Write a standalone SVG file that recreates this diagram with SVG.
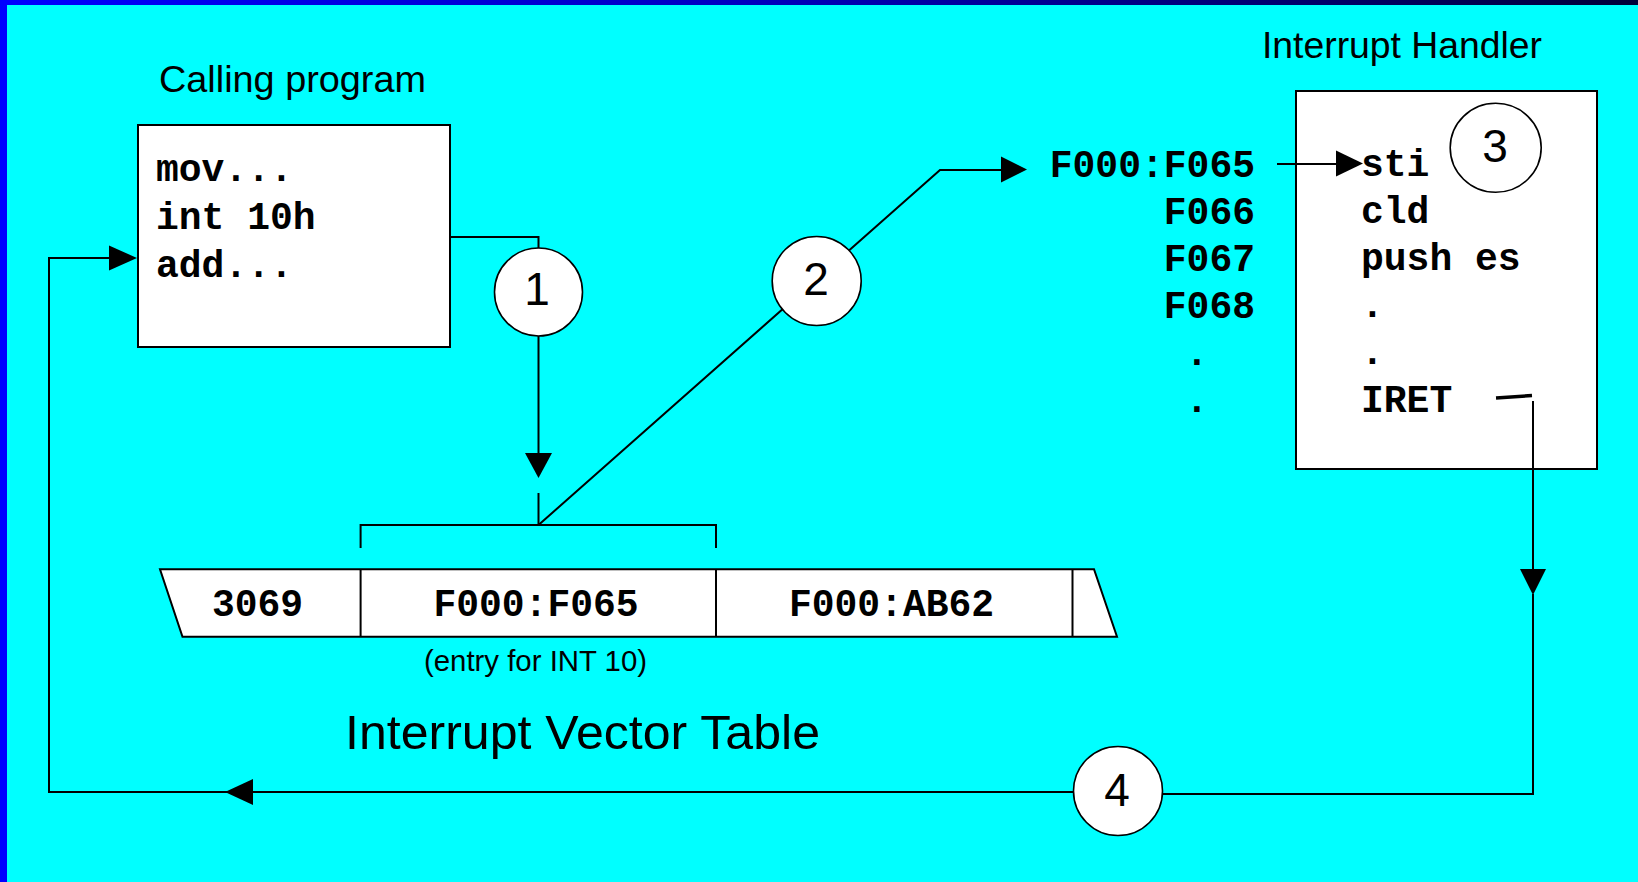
<svg xmlns="http://www.w3.org/2000/svg" width="1638" height="882" viewBox="0 0 1638 882">
  <defs>
    <linearGradient id="topBar" x1="0" y1="0" x2="1" y2="0">
      <stop offset="0" stop-color="#0000FF"/>
      <stop offset="0.45" stop-color="#0000C0"/>
      <stop offset="1" stop-color="#000038"/>
    </linearGradient>
    <style>
      .box { fill: #FFFFFF; stroke: #000000; stroke-width: 2; }
      .wire { fill: none; stroke: #000000; stroke-width: 2; }
      .head { fill: #000000; stroke: none; }
      .badge { fill: #FFFFFF; stroke: #000000; stroke-width: 1.6; }
      .title { font-family: "Liberation Sans", Arial, sans-serif; fill: #000000; }
      .code { font-family: "Liberation Mono", "Courier New", monospace; font-weight: bold; font-size: 38px; fill: #000000; }
      .num { font-family: "Liberation Sans", Arial, sans-serif; font-size: 46px; fill: #000000; text-anchor: middle; }
    </style>
  </defs>

  <!-- background and frame -->
  <rect x="0" y="0" width="1638" height="882" fill="#00FFFF"/>
  <rect x="0" y="0" width="1638" height="5" fill="url(#topBar)"/>
  <rect x="0" y="0" width="7" height="882" fill="#0000FF"/>

  <!-- calling program -->
  <g id="calling-program">
    <text class="title" x="159" y="92" font-size="37" textLength="267" lengthAdjust="spacingAndGlyphs">Calling program</text>
    <rect class="box" x="138" y="125" width="312" height="222"/>
    <text class="code" x="156" y="181">mov...</text>
    <text class="code" x="156" y="229">int 10h</text>
    <text class="code" x="156" y="277">add...</text>
  </g>

  <!-- interrupt vector table -->
  <g id="vector-table">
    <polygon class="box" points="160,569.3 1094,569.3 1117,636.7 182.5,636.7"/>
    <path class="wire" d="M360.6,569.3 V636.7 M716,569.3 V636.7 M1072.5,569.3 V636.7"/>
    <text class="code" x="257.5" y="616" text-anchor="middle">3069</text>
    <text class="code" x="536" y="616" text-anchor="middle">F000:F065</text>
    <text class="code" x="891.5" y="616" text-anchor="middle">F000:AB62</text>
    <text class="title" x="424" y="671" font-size="29" textLength="223" lengthAdjust="spacingAndGlyphs">(entry for INT 10)</text>
    <text class="title" x="345" y="749" font-size="49" textLength="475" lengthAdjust="spacingAndGlyphs">Interrupt Vector Table</text>
  </g>

  <!-- handler addresses -->
  <g id="addresses">
    <text class="code" x="1255" y="177" text-anchor="end">F000:F065</text>
    <text class="code" x="1255" y="224" text-anchor="end">F066</text>
    <text class="code" x="1255" y="271" text-anchor="end">F067</text>
    <text class="code" x="1255" y="318" text-anchor="end">F068</text>
    <text class="code" x="1197" y="365" text-anchor="middle">.</text>
    <text class="code" x="1197" y="412" text-anchor="middle">.</text>
  </g>

  <!-- interrupt handler -->
  <g id="interrupt-handler">
    <text class="title" x="1262" y="58" font-size="37" textLength="280" lengthAdjust="spacingAndGlyphs">Interrupt Handler</text>
    <rect class="box" x="1296" y="91" width="301" height="378"/>
    <text class="code" x="1361" y="176">sti</text>
    <text class="code" x="1361" y="223">cld</text>
    <text class="code" x="1361" y="270">push es</text>
    <text class="code" x="1361" y="317">.</text>
    <text class="code" x="1361" y="364">.</text>
    <text class="code" x="1361" y="412">IRET</text>
  </g>

  <!-- connectors -->
  <g id="connectors">
    <!-- calling program to step 1, down into the vector table -->
    <path class="wire" d="M450,237 H538.5 V248"/>
    <path class="wire" d="M538.5,336 V456"/>
    <polygon class="head" points="525,453 552,453 538.5,478"/>
    <path class="wire" d="M538.5,493 V525"/>
    <!-- bracket over the INT 10 entry -->
    <path class="wire" d="M360.6,548 V525 H716 V548"/>
    <!-- vector entry to handler address -->
    <path class="wire" d="M538.5,525 L940,170 H1004"/>
    <polygon class="head" points="1001,156.5 1001,182.5 1027,169.5"/>
    <!-- address to first handler instruction -->
    <path class="wire" d="M1277,164 H1338"/>
    <polygon class="head" points="1336,150.5 1336,176.5 1363,163.5"/>
    <!-- IRET back to the caller -->
    <path fill="none" stroke="#000000" stroke-width="3.5" d="M1496,398 L1532,395.5"/>
    <path class="wire" d="M1533,401 V571"/>
    <polygon class="head" points="1520,569 1546,569 1533,595"/>
    <path class="wire" d="M1533,594 V794 H1162"/>
    <path class="wire" stroke-width="2.5" d="M1074,792 H49 V258 H112"/>
    <polygon class="head" points="253,779 253,805 225,792"/>
    <polygon class="head" points="109,245.5 109,270.5 137,258"/>
  </g>

  <!-- numbered steps -->
  <g id="step-1">
    <circle class="badge" cx="538.5" cy="292" r="44"/>
    <text class="num" x="537" y="305">1</text>
  </g>
  <g id="step-2">
    <circle class="badge" cx="816.7" cy="281" r="44.5"/>
    <text class="num" x="816" y="295">2</text>
  </g>
  <g id="step-3">
    <ellipse class="badge" cx="1495.7" cy="147.8" rx="45.5" ry="44.5"/>
    <text class="num" x="1495" y="162">3</text>
  </g>
  <g id="step-4">
    <circle class="badge" cx="1118" cy="791" r="44.5"/>
    <text class="num" x="1117" y="806">4</text>
  </g>
</svg>
